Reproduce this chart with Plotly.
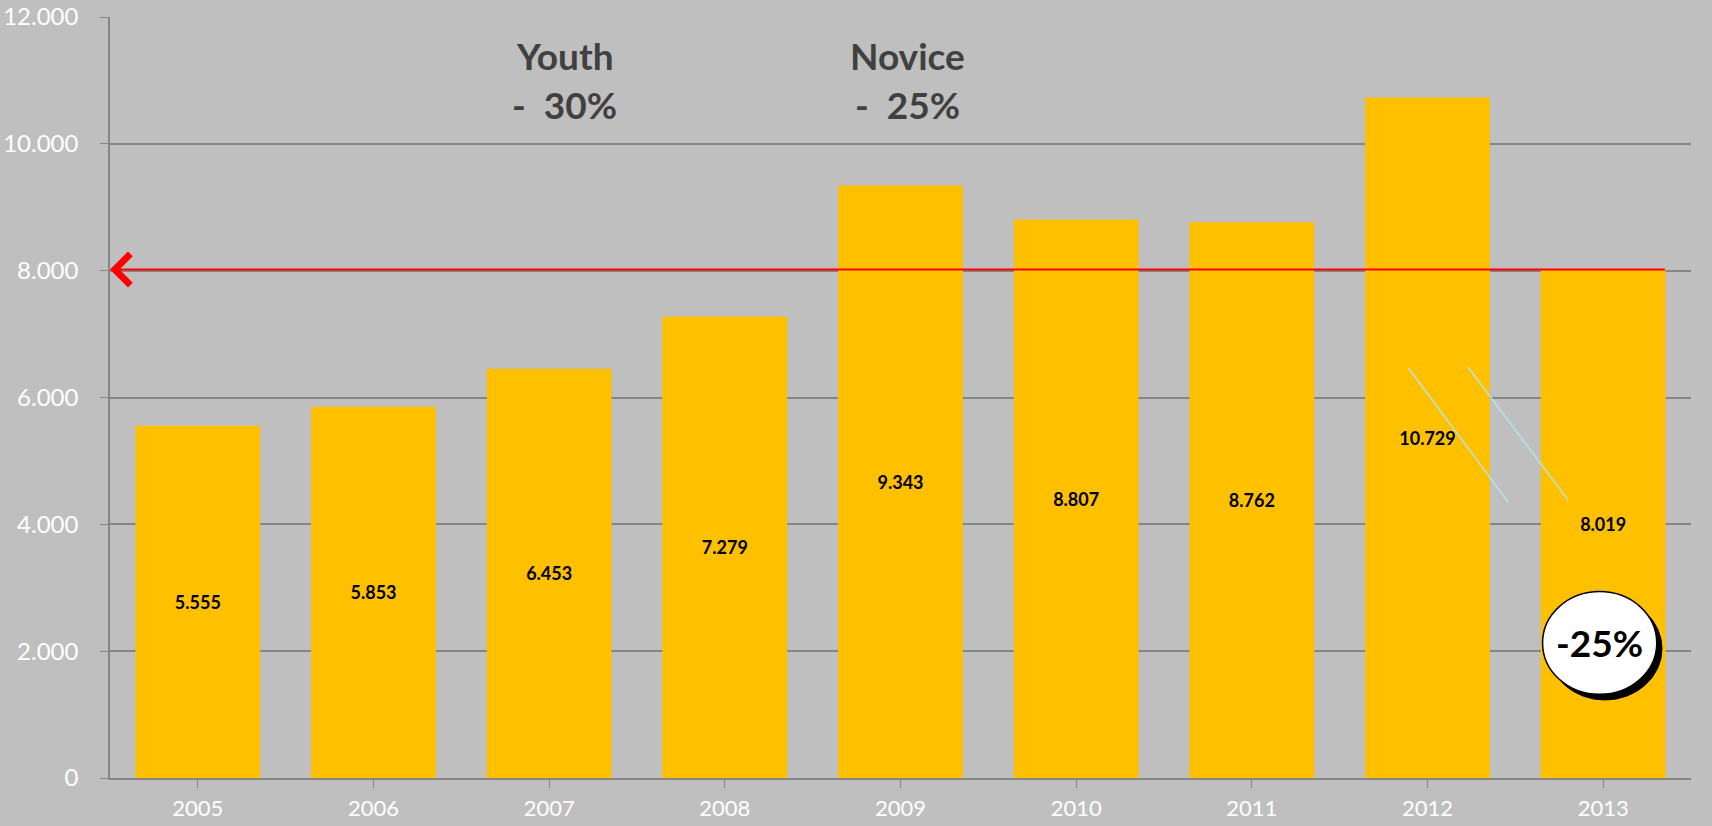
import plotly.graph_objects as go

years = ["2005", "2006", "2007", "2008", "2009", "2010", "2011", "2012", "2013"]
users = [5555, 5853, 6453, 7279, 9343, 8807, 8762, 10729, 8019]
labels = ["5.555", "5.853", "6.453", "7.279", "9.343", "8.807", "8.762", "10.729", "8.019"]
y_ticks = [0, 2000, 4000, 6000, 8000, 10000, 12000]

BG = "#BFBFBF"
GRID = "#858585"
BAR = "#FFC000"
FONT = "Lato"

fig = go.Figure()

fig.add_trace(
    go.Bar(
        x=list(range(len(years))),
        y=users,
        marker=dict(color=BAR, line=dict(width=0)),
        text=labels,
        textposition="inside",
        insidetextanchor="middle",
        textangle=0,
        textfont=dict(family=FONT, size=18, color="black", weight="bold"),
        hoverinfo="skip",
        showlegend=False,
    )
)

fig.update_layout(
    width=1712,
    height=826,
    plot_bgcolor=BG,
    paper_bgcolor=BG,
    margin=dict(t=17, b=48, l=110, r=21),
    bargap=0.29,
    separators=",.",
    font=dict(family=FONT),
)

fig.update_yaxes(
    range=[0, 12000],
    tickvals=y_ticks,
    tickformat=",",
    tickfont=dict(family=FONT, size=24, color="white"),
    showgrid=True,
    gridcolor=GRID,
    gridwidth=1.5,
    showline=True,
    linecolor=GRID,
    linewidth=1.5,
    ticks="outside",
    ticklen=8,
    tickcolor=GRID,
    ticklabelstandoff=17,
    zeroline=False,
    automargin=False,
)
fig.update_xaxes(
    range=[-0.5, len(years) - 0.5],
    tickvals=list(range(len(years))),
    ticktext=years,
    tickfont=dict(family=FONT, size=22, color="white"),
    showgrid=False,
    showline=True,
    linecolor=GRID,
    linewidth=1.5,
    ticks="outside",
    tickson="boundaries",
    ticklen=8,
    tickcolor=GRID,
    ticklabelstandoff=2,
    zeroline=False,
    automargin=False,
)

# headline annotations (two lines each)
for xi, head, pct in [(2.09, "Youth", "-\u00a0\u00a030%"), (4.04, "Novice", "-\u00a0\u00a025%")]:
    for yi, txt in [(11400, head), (10615, pct)]:
        fig.add_annotation(
            x=xi, y=yi, xref="x", yref="y", text=txt, showarrow=False,
            font=dict(family=FONT, size=37, color="#404040", weight="bold"),
        )

# red reference arrow at 2013 level
fig.add_annotation(
    x=-0.5, y=users[-1], ax=8.36, ay=users[-1], xref="x", yref="y", axref="x", ayref="y",
    text="", showarrow=True, arrowhead=4, arrowsize=3, arrowwidth=2, arrowcolor="#FF0000",
)

# cyan decorative strokes
for x0, y0, x1, y1 in [(6.89, 6470, 7.46, 4350), (7.23, 6480, 7.80, 4385)]:
    fig.add_shape(type="line", x0=x0, y0=y0, x1=x1, y1=y1, xref="x", yref="y",
                  line=dict(color="#B4E4E8", width=1.5))

# -25% badge with shadow
cx, cy, rx, ry = 7.98, 2130, 0.325, 810
fig.add_shape(type="circle", x0=cx - rx + 0.03, x1=cx + rx + 0.03, y0=cy - ry - 90, y1=cy + ry - 90,
              xref="x", yref="y", fillcolor="black", line=dict(color="black", width=1))
fig.add_shape(type="circle", x0=cx - rx, x1=cx + rx, y0=cy - ry, y1=cy + ry,
              xref="x", yref="y", fillcolor="white", line=dict(color="black", width=1.5))
fig.add_annotation(
    x=cx, y=cy, xref="x", yref="y", text="-25%", showarrow=False,
    font=dict(family=FONT, size=37, color="black", weight="bold"),
)

fig.write_html("out.html", config={"displayModeBar": False},
               post_script="document.body.style.margin='0';")
